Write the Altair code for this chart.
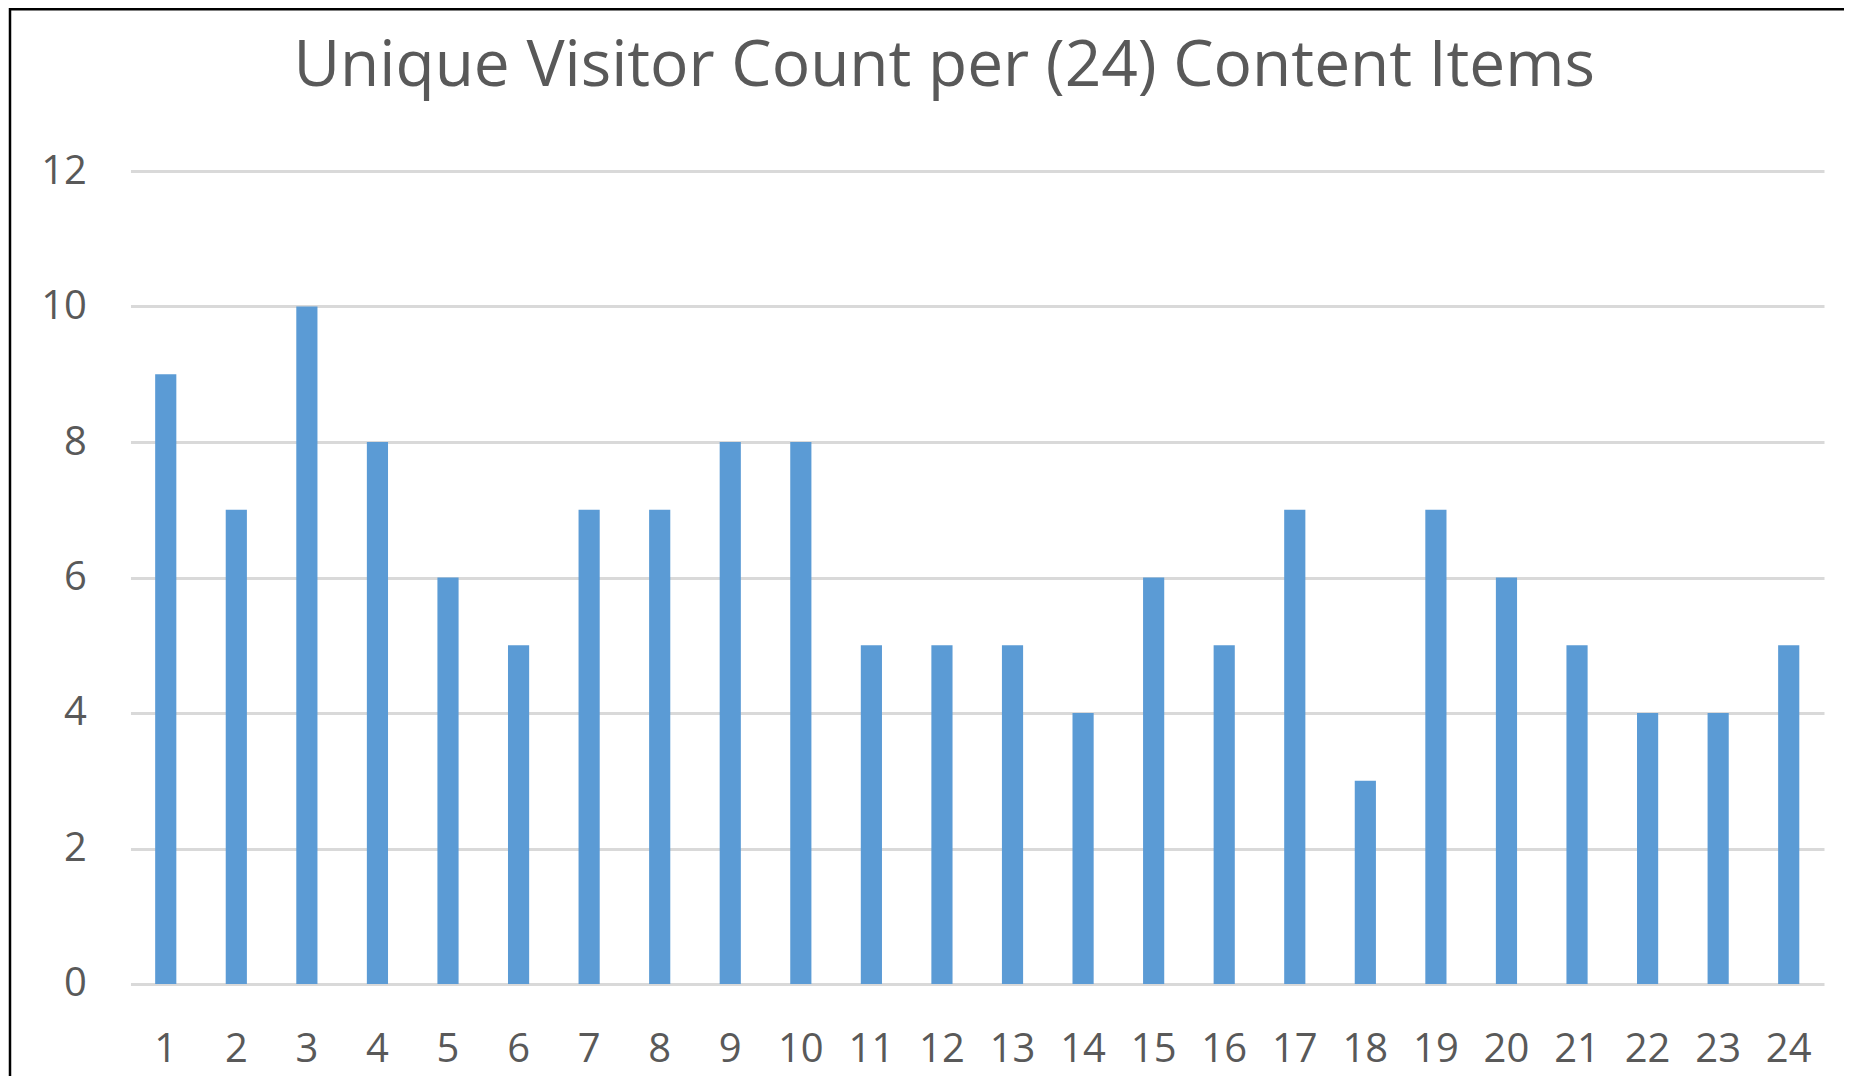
import altair as alt
import pandas as pd

items = list(range(1, 25))
visitors = [9, 7, 10, 8, 6, 5, 7, 7, 8, 8, 5, 5, 5, 4, 6, 5, 7, 3, 7, 6, 5, 4, 4, 5]
y_ticks = [0, 2, 4, 6, 8, 10, 12]
title_text = "Unique Visitor Count per (24) Content Items"

df = pd.DataFrame({"item": items, "visitors": visitors})

W, H = 1694, 813
FONT = "Open Sans"
TXT = "#595959"

bars = alt.Chart(df).mark_bar(color="#5b9bd5").encode(
    x=alt.X("item:O",
            scale=alt.Scale(paddingInner=0.70, paddingOuter=0.35),
            axis=alt.Axis(title=None, labelAngle=0, ticks=False, domain=False,
                          labelPadding=46, labelFontSize=40, labelFont=FONT,
                          labelColor=TXT, grid=False)),
    y=alt.Y("visitors:Q",
            scale=alt.Scale(domain=[0, 12], nice=False),
            axis=alt.Axis(title=None, values=y_ticks, ticks=False, domain=False,
                          labelPadding=44, labelFontSize=40, labelFont=FONT,
                          labelColor=TXT, grid=True, gridColor="#d9d9d9",
                          gridWidth=3)),
)

frame = alt.Chart(pd.DataFrame({"f": [0]})).mark_rect(
    fill=None, stroke="black", strokeWidth=2.5, clip=False
).encode(
    x=alt.value(-120.5), x2=alt.value(W + 200),
    y=alt.value(-162), y2=alt.value(H + 300),
)

chart = alt.layer(bars, frame).properties(
    width=W, height=H,
    autosize=alt.AutoSizeParams(type="none"),
    padding={"left": 122.5, "top": 163, "right": 20, "bottom": 92},
    title=alt.TitleParams(title_text, font=FONT, fontSize=64, fontWeight="normal",
                          color=TXT, anchor="middle", frame="group", dx=-33,
                          offset=-142, baseline="alphabetic"),
).configure_view(stroke=None)

chart.save("out.html", embed_options={"renderer": "svg", "actions": False})
